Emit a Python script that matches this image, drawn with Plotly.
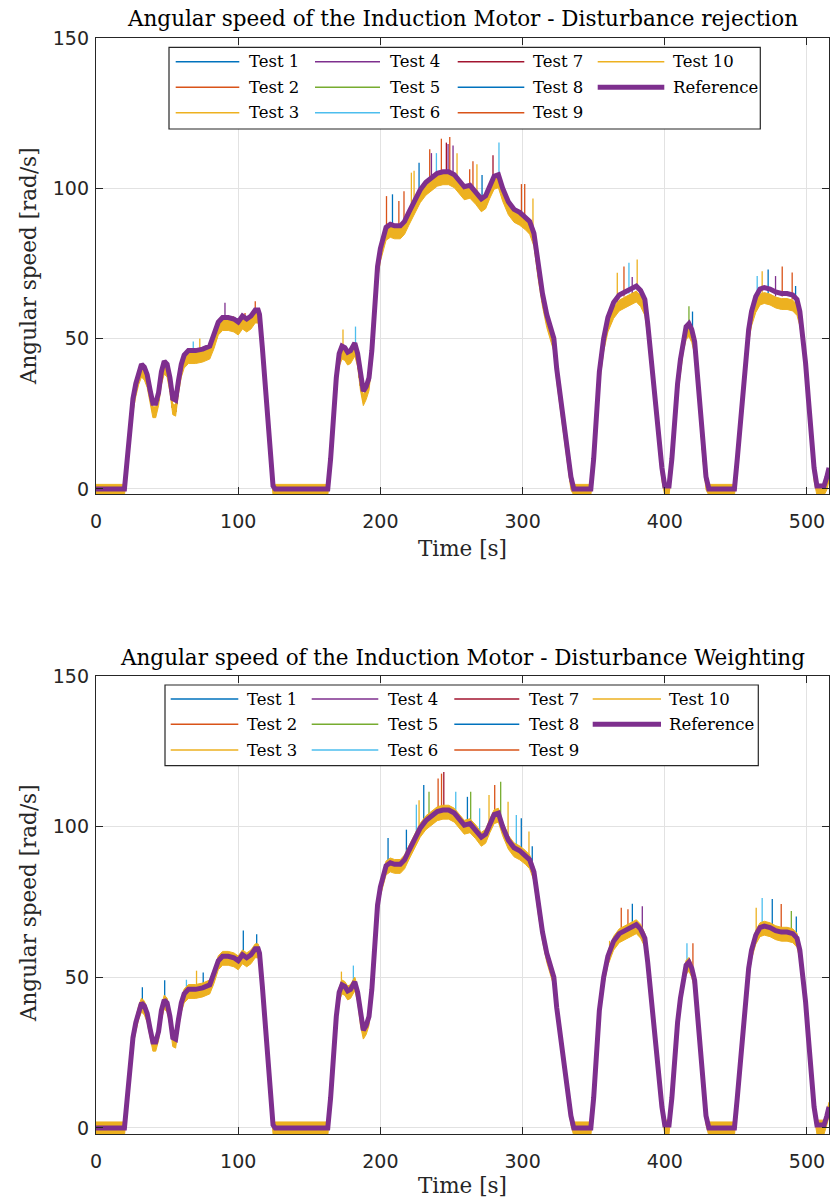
import plotly.graph_objects as go

# ---------------- data ----------------
time_s = [0, 20, 22, 24, 26, 28, 30, 32, 34, 36, 38, 40, 42, 44, 46, 48, 50, 52, 54, 56, 58, 60, 62, 65, 70, 75, 80, 83, 86, 89, 93, 97, 100, 103, 106, 109, 112, 114, 115, 117, 119, 121, 123, 124.5, 126,
          163, 165, 167, 169, 171, 173, 175, 177, 179, 182, 184, 186, 188, 190, 192, 194, 196, 198, 200, 202, 204, 207, 210, 214, 217, 220, 224, 228, 232, 236, 240, 244, 248, 252, 256, 259, 263, 267, 271, 274, 277, 280, 283, 286, 290, 294, 298, 302, 305, 308, 311, 314, 317, 320, 322, 324, 326, 328, 331, 334, 336,
          348, 350, 352, 354, 357, 360, 364, 368, 372, 376, 380, 383, 386, 388, 390, 392, 394, 396, 398, 400, 403, 405, 407, 409, 411, 413, 415, 417, 419, 421, 423, 425, 427, 429, 431,
          449, 451, 453, 455, 457, 459, 461, 464, 467, 470, 474, 478, 482, 486, 490, 493, 495, 497, 499, 501, 503, 505, 507, 512, 514, 515.5]

reference_speed = [0, 0, 10, 20, 30, 35, 39, 41.5, 40.5, 38, 33, 28.5, 28.5, 32, 39, 42.5, 41.5, 37, 30, 29.5, 36, 41.5, 44.5, 46, 46, 46.5, 47.5, 51, 55.5, 57, 57, 56.5, 55.5, 57.5, 56.5, 57.5, 59.5, 59.5, 58, 47, 34, 21, 9, 1, 0,
                   0, 10, 25, 37, 45, 47.5, 47, 45.5, 46, 48.5, 45, 37, 32.5, 34, 37, 46, 62, 74, 80, 84, 87, 88, 87.5, 87.5, 89, 92, 96, 99.5, 102, 103.5, 105, 105.5, 105.5, 104.5, 102, 100.5, 101, 99, 96.5, 97.5, 101, 104, 104.5, 100, 95.5, 93, 92, 90.5, 89, 85, 74, 65, 58, 53, 50, 40, 33, 25, 14, 4, 0,
                   0, 10, 25, 39, 50, 57, 62, 64.5, 65.5, 66.5, 67.5, 66, 63, 55, 45, 36, 27, 17, 7, 1, 1, 10, 25, 35, 43, 50, 54, 55, 53, 49, 38, 25, 13, 4, 0,
                   0, 10, 22, 34, 44, 53, 59, 64, 66.5, 67, 66.5, 65.5, 65, 65, 64.5, 63, 59, 52, 42, 30, 18, 7, 1, 1, 4, 7]

# centre of the dense band of measured test curves (Disturbance rejection)
tests_rejection = [-0.3, -0.3, 7.5, 17.5, 27.5, 32.5, 36.5, 39, 38, 35.5, 30, 25.5, 25.5, 29.5, 36.5, 40, 39, 34, 26.5, 26, 33.5, 39, 42, 43.5, 43.5, 44, 45, 48.5, 53, 54.5, 54.5, 54, 53, 55, 54, 55, 57, 57, 55.5, 44.5, 31.5, 18.5, 6.5, -0.3, -0.3,
                   -0.3, 7.5, 22.5, 34.5, 42.5, 45, 44.5, 43, 43.5, 46, 42.5, 34.5, 29.5, 31.5, 34.5, 43.5, 59.5, 71.5, 77.5, 81.5, 84.5, 85.5, 85, 85, 86.5, 89.5, 93.5, 97, 99.5, 101, 102.5, 103, 103, 102, 99.5, 98, 98.5, 96.5, 94, 95, 98.5, 101.5, 102, 97.5, 93, 90.5, 89.5, 88, 86.5, 82.5, 71.5, 62.5, 55.5, 50.5, 47.5, 37.5, 30.5, 22.5, 11.5, 1.5, -0.3,
                   -0.3, 7.5, 22.5, 36.5, 47.5, 54, 58.5, 61, 62, 63, 64, 62.5, 59.5, 52.5, 42.5, 33.5, 24.5, 14.5, 4.5, -0.3, -0.3, 7.5, 22.5, 32.5, 40.5, 47.5, 51.5, 52.5, 50.5, 46.5, 35.5, 22.5, 10.5, 1.5, -0.3,
                   -0.3, 7.5, 19.5, 31.5, 41.5, 50.5, 56, 60.5, 63, 63.5, 63, 62, 61.5, 61.5, 61, 59.5, 56, 49.5, 39.5, 27.5, 15.5, 4.5, -0.3, -0.3, 1.5, 4.5]

# centre of the dense band of measured test curves (Disturbance Weighting)
tests_weighting = [-0.3, -0.3, 9.3, 19.3, 29.3, 34.3, 38.3, 40.8, 39.8, 37.3, 32.3, 27.8, 27.8, 31.3, 38.3, 41.8, 40.8, 36.3, 29.3, 28.8, 35.3, 40.8, 43.8, 45.3, 45.3, 45.8, 46.8, 50.3, 54.8, 56.3, 56.3, 55.8, 54.8, 56.8, 55.8, 56.8, 58.8, 58.8, 57.3, 46.3, 33.3, 20.3, 8.3, 0.3, -0.3,
                   -0.3, 9.3, 24.3, 36.3, 44.3, 46.8, 46.3, 44.8, 45.3, 47.8, 44.3, 36.3, 31.8, 33.3, 36.3, 45.3, 61.3, 73.3, 79.3, 83.3, 86.3, 87.3, 86.8, 86.8, 88.3, 91.3, 95.3, 98.8, 101.3, 102.8, 104.3, 104.8, 104.8, 103.8, 101.3, 99.8, 100.3, 98.3, 95.8, 96.8, 100.3, 103.3, 103.8, 99.3, 94.8, 92.3, 91.3, 89.8, 88.3, 84.3, 73.3, 64.3, 57.3, 52.3, 49.3, 39.3, 32.3, 24.3, 13.3, 3.3, -0.3,
                   -0.3, 9.3, 24.3, 38.3, 49.3, 56.3, 61.3, 63.8, 64.8, 65.8, 66.8, 65.3, 62.3, 54.3, 44.3, 35.3, 26.3, 16.3, 6.3, 0.3, 0.3, 9.3, 24.3, 34.3, 42.3, 49.3, 53.3, 54.3, 52.3, 48.3, 37.3, 24.3, 12.3, 3.3, -0.3,
                   -0.3, 9.3, 21.3, 33.3, 43.3, 52.3, 58.3, 63.3, 65.8, 66.3, 65.8, 64.8, 64.3, 64.3, 63.8, 62.3, 58.3, 51.3, 41.3, 29.3, 17.3, 6.3, 0.3, 0.3, 3.3, 6.3]

# half-height of the noise band of the tests (rad/s)
spread_rejection = 1.8
spread_weighting = 2.3

# disturbance spikes: (test number, time [s], low value, peak value)
spikes_rejection = [
    (6, 68.4, 43, 49), (3, 73, 43, 50), (4, 90.7, 54, 61.9), (3, 96.6, 53, 57.5), (9, 104.8, 54, 58.5), (2, 112, 57, 62.4),
    (3, 173.7, 45, 53), (6, 182.5, 46, 54),
    (9, 204.3, 85, 97.4), (1, 208.5, 86, 98), (2, 213, 86, 95.8), (9, 216.6, 87, 99), (3, 221.8, 93, 105.2), (3, 223.7, 94, 105.8),
    (8, 227.2, 97, 108.5), (2, 234.7, 101, 113), (4, 235.9, 101, 111.7), (6, 239.4, 103, 111.7), (9, 242.9, 103, 116.5),
    (7, 246.4, 104, 115.2), (4, 247.6, 104, 114.7), (2, 248.8, 104, 117.1), (4, 251.1, 103, 114.2), (3, 253.9, 102, 111.7),
    (9, 262.8, 99, 106.3), (2, 265.1, 99, 109), (3, 267.9, 97, 108), (8, 271.5, 95, 104.4), (7, 279.2, 101, 111),
    (6, 283.4, 102, 115.2), (2, 299.2, 90, 101.4), (9, 301.5, 89, 101.4), (3, 307.3, 84, 96.6),
    (3, 366.6, 62, 71.9), (2, 371.3, 64, 74), (6, 374.8, 65, 75.2), (4, 377.1, 65, 70.5), (3, 380.6, 66, 76.3),
    (5, 417, 54, 60.8), (1, 419.5, 52, 59),
    (6, 465, 63, 70.8), (3, 468.5, 65, 72.4), (1, 472.7, 65, 73), (4, 477.9, 64, 70.8), (9, 482.6, 64, 74), (2, 489.6, 63, 72), (8, 492, 61, 67.5),
]
spikes_weighting = [
    (1, 32.6, 40, 46.7), (8, 48.3, 41, 49), (6, 63.6, 45, 49.2), (3, 70.7, 45, 52.2), (1, 75.4, 46, 51.6), (3, 82.5, 48, 50.5),
    (8, 103.6, 57, 65.5), (1, 113, 59, 64.3),
    (3, 172.6, 45, 51.9), (6, 181, 47, 53.9),
    (1, 205.4, 86, 96.2), (1, 218.3, 88, 99), (6, 225.3, 95, 107.3), (3, 227.2, 98, 108.8), (1, 230.5, 101, 113.8),
    (5, 234.2, 102, 111.6), (9, 240.6, 104, 116), (2, 243, 105, 117.6), (7, 244.6, 105, 118.1), (6, 253, 104, 111.6),
    (1, 261.2, 100, 109.9), (5, 263.5, 100, 111.6), (6, 269.8, 96, 106.1), (3, 276.4, 99, 110.5), (2, 280.4, 103, 113.8),
    (5, 284.6, 103, 114.9), (3, 289.8, 95, 108.3), (6, 295.6, 92, 103.9), (8, 299.1, 91, 102.8), (3, 304.5, 89, 98.4), (1, 306.8, 87, 93.5),
    (3, 361.2, 56, 62.1), (9, 369.4, 64, 73.1), (2, 374.1, 65, 72.6), (1, 377.2, 66, 74.4), (4, 384.2, 64, 73.6),
    (6, 415.6, 54, 61.3), (9, 419.8, 52, 61.3),
    (3, 464.3, 64, 73.1), (6, 468.5, 66, 76.3), (1, 475.6, 66, 76), (9, 481.9, 65, 74.3), (5, 489, 64, 72), (8, 492.5, 62, 70.2),
]

test_names = ["Test 1", "Test 2", "Test 3", "Test 4", "Test 5", "Test 6", "Test 7", "Test 8", "Test 9", "Test 10"]
test_colors = ["#0072BD", "#D95319", "#EDB120", "#7E2F8E", "#77AC30", "#4DBEEE", "#A2142F", "#0072BD", "#D95319", "#EDB120"]
ref_color = "#7E2F8E"
titles = ["Angular speed of the Induction Motor - Disturbance rejection",
          "Angular speed of the Induction Motor - Disturbance Weighting"]
x_ticks = [0, 100, 200, 300, 400, 500]
y_ticks = [0, 50, 100, 150]

assert len(time_s) == len(reference_speed) == len(tests_rejection) == len(tests_weighting)

# ---------------- figure ----------------
W, H = 832, 1203
ML, MR, MT, MB = 96, 3, 38, 69
PW, PH = W - ML - MR, H - MT - MB
SERIF = "DejaVu Serif"


def px_x(px):
    return (px - ML) / PW


def px_y(py):
    return (H - MB - py) / PH


fig = go.Figure()


def add_panel(center, spread, spikes, xa, ya):
    # tests 1..9: thin curves (their bodies lie inside the dense band) with their spikes
    for k in range(1, 10):
        xs, ys = list(time_s), list(center)
        for (tk, t, lo, hi) in spikes:
            if tk == k:
                xs += [None, t, t]
                ys += [None, lo, hi]
        fig.add_trace(go.Scatter(x=xs, y=ys, mode="lines", name=test_names[k - 1],
                                 line=dict(color=test_colors[k - 1], width=1.3),
                                 xaxis=xa, yaxis=ya, showlegend=False, connectgaps=False))
    # test 10: dense oscillating curve -> drawn as its noise envelope
    lower = [c - spread for c in center]
    upper = [c + spread for c in center]
    fig.add_trace(go.Scatter(x=time_s, y=lower, mode="lines", name="Test 10",
                             line=dict(color=test_colors[9], width=1), xaxis=xa, yaxis=ya, showlegend=False))
    fig.add_trace(go.Scatter(x=time_s, y=upper, mode="lines", name="Test 10", fill="tonexty",
                             fillcolor=test_colors[9], line=dict(color=test_colors[9], width=1),
                             xaxis=xa, yaxis=ya, showlegend=False))
    fig.add_trace(go.Scatter(x=time_s, y=reference_speed, mode="lines", name="Reference",
                             line=dict(color=ref_color, width=5), xaxis=xa, yaxis=ya, showlegend=False))


add_panel(tests_rejection, spread_rejection, spikes_rejection, "x", "y")
add_panel(tests_weighting, spread_weighting, spikes_weighting, "x2", "y2")

top_dom = [px_y(494), 1.0]
bot_dom = [0.0, px_y(676)]

axis_style = dict(showline=True, linecolor="#262626", linewidth=1.3, mirror="ticks", ticks="inside",
                  ticklen=7, tickcolor="#262626", tickwidth=1, showgrid=True, gridcolor="#E2E2E2", gridwidth=1,
                  zeroline=False, tickfont=dict(family="DejaVu Sans", size=19, color="#262626"))

fig.update_layout(
    width=W, height=H, margin=dict(l=ML, r=MR, t=MT, b=MB),
    paper_bgcolor="white", plot_bgcolor="white", showlegend=False,
    xaxis=dict(domain=[0, 1], anchor="y", range=[0, 515.5], tickvals=x_ticks, ticklabelstandoff=10, **axis_style),
    yaxis=dict(domain=top_dom, anchor="x", range=[-1.7, 150], tickvals=y_ticks, ticklabelstandoff=2, **axis_style),
    xaxis2=dict(domain=[0, 1], anchor="y2", range=[0, 515.5], tickvals=x_ticks, ticklabelstandoff=10, **axis_style),
    yaxis2=dict(domain=bot_dom, anchor="x2", range=[-2, 150], tickvals=y_ticks, ticklabelstandoff=2, **axis_style),
)

ann = []
shapes = []
# titles and axis labels
for title, ty, xl_y, yl_y in [(titles[0], 18, 548, 266), (titles[1], 657, 1186, 903)]:
    ann.append(dict(text=title, x=0.5, y=px_y(ty), xref="paper", yref="paper", showarrow=False,
                    xanchor="center", yanchor="middle", font=dict(family=SERIF, size=21.5, color="black")))
    ann.append(dict(text="Time [s]", x=0.5, y=px_y(xl_y), xref="paper", yref="paper", showarrow=False,
                    xanchor="center", yanchor="middle", font=dict(family=SERIF, size=21.5, color="#262626")))
    ann.append(dict(text="Angular speed [rad/s]", x=px_x(28), y=px_y(yl_y),
                    xref="paper", yref="paper", showarrow=False, textangle=-90,
                    xanchor="center", yanchor="middle", font=dict(family=SERIF, size=21.5, color="#262626")))

# legends (4 columns, MATLAB style)
legend_cols = [["Test 1", "Test 2", "Test 3"], ["Test 4", "Test 5", "Test 6"],
               ["Test 7", "Test 8", "Test 9"], ["Test 10", "Reference"]]
legend_geoms = [
    dict(box=(169, 47.3, 760.3, 129), rows=[61.7, 87.3, 112.7],
         lines=[(175.7, 239.3), (315, 380), (457.7, 524.3), (597.7, 664.3)], text=[246.7, 388.3, 531, 671]),
    dict(box=(165, 685, 758.3, 765.7), rows=[699, 724.3, 750],
         lines=[(170.7, 238.3), (311.7, 378.3), (454.3, 519.3), (592.7, 661)], text=[245, 385.7, 527, 666.7]),
]
for g in legend_geoms:
    x0, y0, x1, y1 = g["box"]
    shapes.append(dict(type="rect", xref="paper", yref="paper", x0=px_x(x0), x1=px_x(x1), y0=px_y(y1), y1=px_y(y0),
                       fillcolor="white", line=dict(color="#262626", width=1.2), layer="above"))
    for ci, col in enumerate(legend_cols):
        for ri, name in enumerate(col):
            yy = px_y(g["rows"][ri])
            if name == "Reference":
                color, lw = ref_color, 5
            else:
                color, lw = test_colors[test_names.index(name)], 1.5
            lx0, lx1 = g["lines"][ci]
            shapes.append(dict(type="line", xref="paper", yref="paper", x0=px_x(lx0), x1=px_x(lx1), y0=yy, y1=yy,
                               line=dict(color=color, width=lw), layer="above"))
            ann.append(dict(text=name, x=px_x(g["text"][ci]), y=yy, xref="paper", yref="paper", showarrow=False,
                            xanchor="left", yanchor="middle", font=dict(family=SERIF, size=16.5, color="black")))

fig.update_layout(annotations=ann, shapes=shapes)
fig.write_html("out.html")
